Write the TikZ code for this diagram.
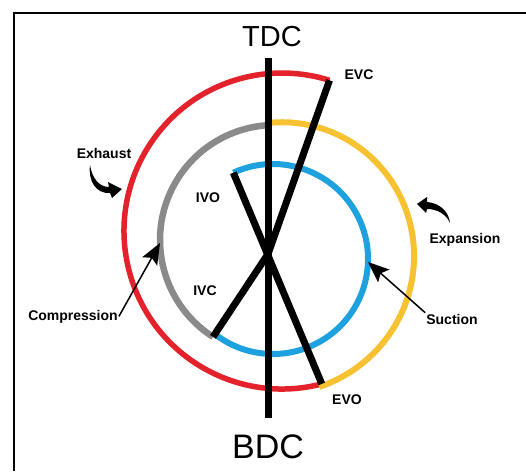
\documentclass[tikz,border=0pt]{standalone}
\usepackage{fontspec}
\setmainfont{Liberation Sans}
\usetikzlibrary{arrows.meta,positioning,calc}
\definecolor{exhred}{HTML}{E3222B}
\definecolor{expyel}{HTML}{F7C231}
\definecolor{cmpgray}{HTML}{8A8A8A}
\definecolor{sucblue}{HTML}{1DA1DF}
\tikzset{
  stroke/.style={line width=6pt},
  rod/.style={draw=black,line width=7pt,line join=round},
  lbl/.style={font=\fontsize{14}{16}\selectfont\bfseries,inner sep=1pt},
  dead/.style={inner sep=0pt},
  pointer/.style={draw=black,line width=1.5pt,-{Stealth[length=21pt,width=17pt,inset=4pt]}},
}

\begin{document}
\begin{tikzpicture}[x=1pt,y=-1pt]
  \useasboundingbox (0,0) rectangle (526,471);
  % frame
  \draw[line width=2pt] (526,13) -- (14,13) -- (14,471);
  % centres of the stroke circles
  \coordinate (redc) at (282,231);
  \coordinate (grayc) at (275,240);
  \coordinate (bluec) at (273,259);
  \coordinate (O) at (268,254);
  \coordinate (top) at (268,58);
  \coordinate (bot) at (268,418);
  \coordinate (EVC) at ($(redc)+(-72.5:158)$);
  \coordinate (EVO) at ($(redc)+(75.4:158)$);
  \coordinate (IVO) at ($(bluec)+(-114.7:95)$);
  \coordinate (IVC) at ($(grayc)+(122.6:115)$);
  \coordinate (cmpt) at (160,243);
  \coordinate (sucpt) at (368,262);
  % strokes
  \draw[stroke,exhred,line width=5.5pt] (EVO) arc[start angle=75.4,end angle=287.5,radius=158];
  \draw[stroke,expyel] plot[domain=-94.4:73,samples=80]
    ({278+(129.4+0.0698*(\x+94.4))*cos(\x)},{252+(129.4+0.0698*(\x+94.4))*sin(\x)});
  \draw[stroke,cmpgray,line width=6.5pt] (IVC) arc[start angle=122.6,end angle=266.6,radius=115];
  \draw[stroke,sucblue] (IVO) arc[start angle=-114.7,end angle=126,radius=95];
  % crank positions
  \draw[rod] (top) -- (bot);
  \draw[rod] (IVO) -- (EVO);
  \draw[rod] (EVC) -- (O) -- (IVC);
  % labels
  \node[dead,anchor=base,font=\fontsize{29}{32}\selectfont] (tdc) at (272,46) {TDC};
  \node[dead,anchor=base,font=\fontsize{34}{38}\selectfont] (bdc) at (268,458) {BDC};
  \node[lbl,anchor=base] (evc) at (359,79) {EVC};
  \node[lbl,anchor=base] (evo) at (347,404) {EVO};
  \node[lbl,anchor=base] (ivo) at (208,202) {IVO};
  \node[lbl,anchor=base] (ivc) at (205,295) {IVC};
  \node[lbl,anchor=base] (exh) at (104,158) {Exhaust};
  \node[lbl,anchor=base] (exp) at (465,243) {Expansion};
  \node[lbl,anchor=base] (comp) at (73,320) {Compression};
  \node[lbl,anchor=base] (suc) at (452,324) {Suction};
  % pointers
  \draw[pointer] (comp.east) -- (cmpt);
  \draw[pointer] (suc.north west) -- (sucpt);
  % swoosh arrows
  \fill (90,165) .. controls (92,178) and (99,187) .. (109,187) -- (108,182) -- (122,189)
    -- (112,198) -- (110,193) .. controls (96,194) and (88,181) .. (90,165) -- cycle;
  \fill (450,223) .. controls (449,212) and (440,203) .. (427,202) -- (427,197) -- (417,204)
    -- (426,213) -- (427,209) .. controls (437,209) and (446,214) .. (450,223) -- cycle;
\end{tikzpicture}
\end{document}
